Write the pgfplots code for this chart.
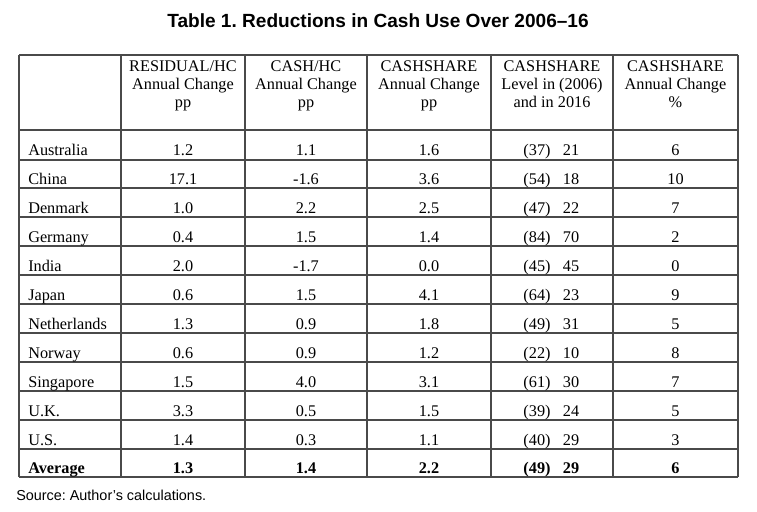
\documentclass[border=0pt]{standalone}
\usepackage{fontspec}
\setmainfont{Liberation Serif}
\newfontfamily\arial{Liberation Sans}
\usepackage{pgfplots}
\usepackage{pgfplotstable}
\pgfplotsset{compat=1.18}
\definecolor{gridc}{HTML}{4A4A4A}
\frenchspacing

\pgfplotstableread{
y name c1 c2 c3 lvlA lvlB c5
155 Australia 1.2 1.1 1.6 (37) 21 6
184 China 17.1 -1.6 3.6 (54) 18 10
213 Denmark 1.0 2.2 2.5 (47) 22 7
242 Germany 0.4 1.5 1.4 (84) 70 2
271 India 2.0 -1.7 0.0 (45) 45 0
300 Japan 0.6 1.5 4.1 (64) 23 9
329 Netherlands 1.3 0.9 1.8 (49) 31 5
358 Norway 0.6 0.9 1.2 (22) 10 8
387 Singapore 1.5 4.0 3.1 (61) 30 7
416 U.K. 3.3 0.5 1.5 (39) 24 5
445 U.S. 1.4 0.3 1.1 (40) 29 3
}\datatable

\pgfplotstableread{
y name c1 c2 c3 lvlA lvlB c5
473 Average 1.3 1.4 2.2 (49) 29 6
}\avgtable

\newcommand{\col}[4]{% table, x, column, extra style
  \addplot[draw=none, mark=none, nodes near coords, point meta=explicit symbolic,
    nodes near coords align={anchor=base},
    every node near coord/.append style={inner sep=0pt, font=\fontsize{12.2}{14}\selectfont#4}]
    table[x expr=#2, y=y, meta=#3] {#1};}

\begin{document}
\begin{tikzpicture}
\begin{axis}[
  scale only axis, width=567.75pt, height=383.25pt,
  xmin=0, xmax=757, ymin=0, ymax=511, y dir=reverse,
  hide axis, clip=false]
\addplot[draw=none, mark=none] coordinates {(0,0) (757,511)};

% grid
\foreach \yy in {55,130,160,188,217,246,275,304,333,362,391,420,449,477} {
  \edef\temp{\noexpand\draw[gridc, line width=1.1pt] (axis cs:19,\yy) -- (axis cs:738,\yy);}\temp
}
\foreach \xx in {19,121,245,367,491,613,738} {
  \edef\temp{\noexpand\draw[gridc, line width=1.1pt] (axis cs:\xx,55) -- (axis cs:\xx,477);}\temp
}

% title and source
\node[anchor=base, font=\arial\bfseries\fontsize{14.3}{16}\selectfont] at (axis cs:378,27) {Table 1. Reductions in Cash Use Over 2006–16};
\node[anchor=base west, inner sep=0pt, font=\arial\fontsize{10.8}{13}\selectfont] at (axis cs:16,500) {Source: Author’s calculations.};

% headers
\begin{scope}[every node/.style={anchor=base, inner sep=0pt, font=\fontsize{12.2}{14}\selectfont}]
\node at (axis cs:183,71) {RESIDUAL/HC};
\node at (axis cs:183,89) {Annual Change};
\node at (axis cs:183,107) {pp};
\node at (axis cs:306,71) {CASH/HC};
\node at (axis cs:306,89) {Annual Change};
\node at (axis cs:306,107) {pp};
\node at (axis cs:429,71) {CASHSHARE};
\node at (axis cs:429,89) {Annual Change};
\node at (axis cs:429,107) {pp};
\node at (axis cs:552,71) {CASHSHARE};
\node at (axis cs:552,89) {Level in (2006)};
\node at (axis cs:552,107) {and in 2016};
\node at (axis cs:675.5,71) {CASHSHARE};
\node at (axis cs:675.5,89) {Annual Change};
\node at (axis cs:675.5,107) {\%};
\end{scope}

% body
\addplot[draw=none, mark=none, nodes near coords, point meta=explicit symbolic,
    nodes near coords align={anchor=base west},
    every node near coord/.append style={inner sep=0pt, font=\fontsize{12.2}{14}\selectfont}]
    table[x expr=28, y=y, meta=name] {\datatable};
\col{\datatable}{183}{c1}{}
\col{\datatable}{306}{c2}{}
\col{\datatable}{429}{c3}{}
\col{\datatable}{537}{lvlA}{}
\col{\datatable}{571}{lvlB}{}
\col{\datatable}{675.5}{c5}{}

\addplot[draw=none, mark=none, nodes near coords, point meta=explicit symbolic,
    nodes near coords align={anchor=base west},
    every node near coord/.append style={inner sep=0pt, font=\fontsize{12.2}{14}\selectfont\bfseries}]
    table[x expr=28, y=y, meta=name] {\avgtable};
\col{\avgtable}{183}{c1}{\bfseries}
\col{\avgtable}{306}{c2}{\bfseries}
\col{\avgtable}{429}{c3}{\bfseries}
\col{\avgtable}{537}{lvlA}{\bfseries}
\col{\avgtable}{571}{lvlB}{\bfseries}
\col{\avgtable}{675.5}{c5}{\bfseries}
\end{axis}
\end{tikzpicture}
\end{document}
